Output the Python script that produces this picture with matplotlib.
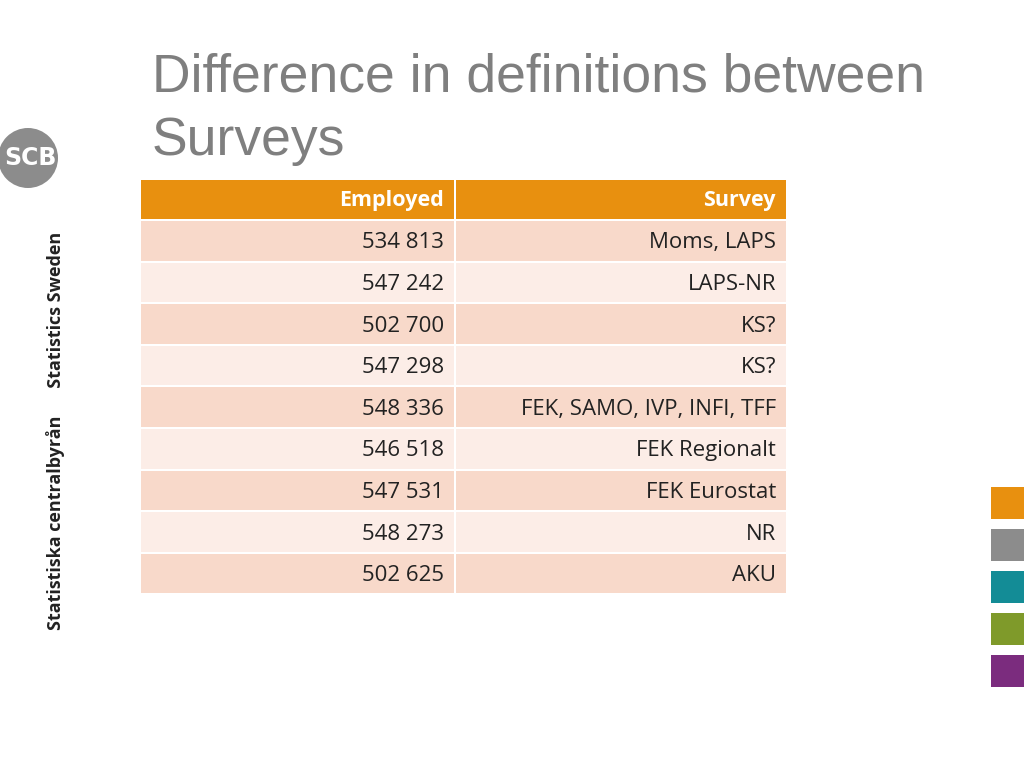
import matplotlib
matplotlib.use("Agg")
import matplotlib.pyplot as plt
from matplotlib.patches import Rectangle, Circle

title_lines = ["Difference in definitions between", "Surveys"]
headers = ["Employed", "Survey"]
employed = ["534 813", "547 242", "502 700", "547 298", "548 336", "546 518", "547 531", "548 273", "502 625"]
surveys = ["Moms, LAPS", "LAPS-NR", "KS?", "KS?", "FEK, SAMO, IVP, INFI, TFF",
           "FEK Regionalt", "FEK Eurostat", "NR", "AKU"]
side_colors = ["#E8900F", "#8C8C8C", "#138C96", "#7F9A2A", "#7B2C7E"]

fig = plt.figure(figsize=(10.24, 7.68), dpi=100)
ax = fig.add_axes([0, 0, 1, 1])
ax.set_xlim(0, 1024); ax.set_ylim(768, 0); ax.axis("off")

for i, line in enumerate(title_lines):
    ax.text(152, 77 + i * 64, line, fontsize=38.5, color="#7F7F7F", family="Liberation Sans",
            va="center", ha="left")

# table
x0, xs, x1 = 141, 455, 786
top, hh, rh = 180, 39, 41.6
font = "Open Sans"
ax.add_patch(Rectangle((x0, top), x1 - x0, hh, color="#E8900F", lw=0))
ax.add_patch(Rectangle((xs - 1, top), 2, hh, color="white", lw=0))
ax.text(xs - 11, top + hh / 2 + 1, headers[0], ha="right", va="center", color="white",
        fontsize=15.5, weight="bold", family=font)
ax.text(x1 - 10, top + hh / 2 + 1, headers[1], ha="right", va="center", color="white",
        fontsize=15.5, weight="bold", family=font)
for i, (e, s) in enumerate(zip(employed, surveys)):
    y = top + hh + 2 + i * rh
    c = "#F8D9CA" if i % 2 == 0 else "#FCEDE7"
    ax.add_patch(Rectangle((x0, y), xs - x0 - 1, rh - 2, color=c, lw=0))
    ax.add_patch(Rectangle((xs + 1, y), x1 - xs - 1, rh - 2, color=c, lw=0))
    ax.text(xs - 11, y + rh / 2 + 1, e, ha="right", va="center", fontsize=16, family=font, color="#222222")
    ax.text(x1 - 10, y + rh / 2 + 1, s, ha="right", va="center", fontsize=16, family=font, color="#222222")

# logo
ax.add_patch(Circle((28, 158), 30, color="#8C8C8C", lw=0))
ax.text(30, 158, "SCB", ha="center", va="center", color="white", fontsize=17,
        weight="bold", family="Liberation Sans Narrow")
ax.text(56, 431, "Statistiska centralbyrån      Statistics Sweden", rotation=90,
        ha="center", va="center", fontsize=13, weight="bold", family=font, color="#222222")

for i, c in enumerate(side_colors):
    ax.add_patch(Rectangle((991, 487 + i * 42), 34, 32, color=c, lw=0))

fig.savefig("out.png", dpi=100)
